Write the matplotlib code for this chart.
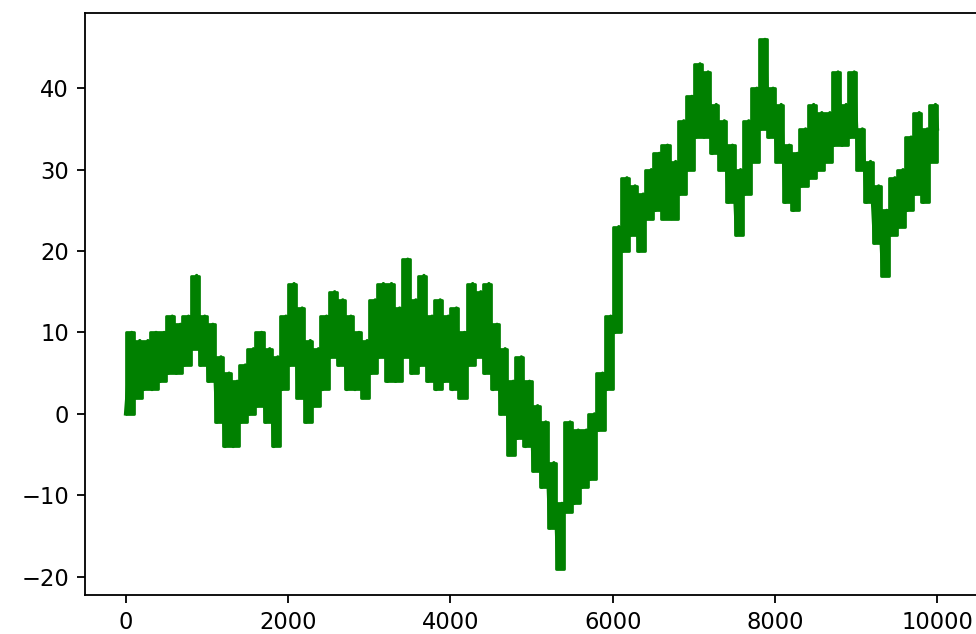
import matplotlib
matplotlib.use('Agg')
import matplotlib.pyplot as plt
import numpy as np

# random walk of 10000 steps, read off the picture as the low and high
# of each block of 100 steps
block_start = np.arange(0, 10000, 100)
lows = [
    0, 2, 3, 3, 4, 5, 5, 6, 8, 6,
    4, -1, -4, -4, -1, 0, 1, -1, -4, 3,
    6, 2, -1, 1, 3, 7, 6, 3, 3, 2,
    5, 7, 4, 4, 7, 5, 6, 4, 3, 4,
    3, 2, 6, 7, 5, 3, 0, -5, -3, -4,
    -7, -9, -14, -19, -12, -11, -9, -8, -2, 3,
    10, 20, 22, 20, 24, 25, 24, 24, 27, 30,
    34, 34, 32, 30, 26, 22, 27, 31, 35, 34,
    31, 26, 25, 28, 29, 30, 31, 33, 33, 34,
    30, 26, 21, 17, 22, 23, 25, 27, 26, 31,
]
highs = [
    10, 9, 9, 10, 10, 12, 11, 12, 17, 12,
    11, 7, 5, 4, 6, 8, 10, 8, 7, 12,
    16, 13, 9, 8, 12, 15, 14, 12, 10, 9,
    14, 16, 16, 13, 19, 14, 17, 12, 14, 12,
    13, 10, 16, 15, 16, 11, 8, 4, 7, 4,
    1, -1, -6, -11, -1, -2, -2, 0, 5, 12,
    23, 29, 28, 27, 30, 32, 33, 31, 36, 39,
    43, 42, 38, 36, 33, 30, 36, 40, 46, 40,
    38, 33, 32, 35, 38, 37, 37, 42, 38, 42,
    35, 31, 28, 25, 29, 30, 34, 37, 35, 38,
]
last_step = 9999
last_value = 35

# zigzag through the lows and highs, like the +-1 steps of the walk
x = np.empty(2 * len(block_start) + 1)
y = np.empty(2 * len(block_start) + 1)
x[0:-1:2] = block_start + 25
x[1:-1:2] = block_start + 75
y[0:-1:2] = lows
y[1:-1:2] = highs
x[-1] = last_step
y[-1] = last_value
x[0] = 0

fig = plt.figure(figsize=(977/163, 634/163), dpi=163)
ax = fig.add_axes([85/977, 1 - 595/634, (978-85)/977, (595-13)/634])
ax.fill_between(np.append(block_start, last_step), lows + [last_value - 4],
                highs + [last_value + 3], step='post', color='green', lw=1.2)
ax.plot(x, y, color='green')

plt.savefig('out.png', dpi=163)
